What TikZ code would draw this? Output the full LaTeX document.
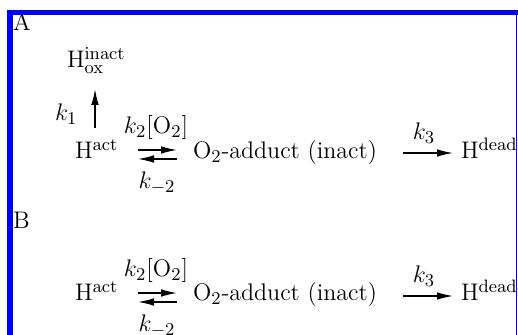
\documentclass[tikz,border=0pt]{standalone}
\usetikzlibrary{arrows.meta}
\DeclareMathSizes{12}{12}{9.5}{7}
\definecolor{frameblue}{RGB}{0,0,255}
\begin{document}
\begin{tikzpicture}[x=0.5pt,y=-0.5pt,
  txt/.style={inner sep=0pt,outer sep=0pt,font=\fontsize{12}{14.5}\selectfont},
  rxn/.style={line width=0.65pt,-{Latex[length=8pt,width=3.8pt]}},
  frame/.style={draw=frameblue,line width=2.6pt},
  thinframe/.style={draw=frameblue,line width=0.8pt}]
\useasboundingbox (0,0) rectangle (518,335);
\fill[white] (0,0) rectangle (518,335);
\begin{scope}
\clip (0,0) rectangle (515.5,335);
% panel A
\node[txt,anchor=base west] (A) at (13,31) {A};
\node[txt,anchor=base west] (hox) at (67,68) {$\mathrm{H}^{\mathrm{inact}}_{\mathrm{ox}}$};
\node[txt,anchor=base west] (k1) at (55,121) {$k_1$};
\node[txt,anchor=base west] (hactA) at (75,159) {$\mathrm{H}^{\mathrm{act}}$};
\node[txt,anchor=base] (k2A) at (156,134) {$k_2[\mathrm{O}_2]$};
\node[txt,anchor=base] (km2A) at (157,189) {$k_{-2}$};
\node[txt,anchor=base west] (adA) at (193,159) {$\mathrm{O}_2$-adduct (inact)};
\node[txt,anchor=base] (k3A) at (424,140) {$k_3$};
\node[txt,anchor=base west] (hdA) at (461,159) {$\mathrm{H}^{\mathrm{dead}}$};
\coordinate (upS) at (95,128);
\coordinate (upE) at (95,89);
\coordinate (fwAs) at (138,150);
\coordinate (fwAe) at (177,150);
\coordinate (bkAs) at (177,159);
\coordinate (bkAe) at (138,159);
\coordinate (k3As) at (403,153);
\coordinate (k3Ae) at (453,153);
\draw[rxn] (upS) -- (upE);
\draw[rxn] (fwAs) -- (fwAe);
\draw[rxn] (bkAs) -- (bkAe);
\draw[rxn] (k3As) -- (k3Ae);
% panel B
\node[txt,anchor=base west] (B) at (13,229) {B};
\node[txt,anchor=base west] (hactB) at (75,301) {$\mathrm{H}^{\mathrm{act}}$};
\node[txt,anchor=base] (k2B) at (156,277) {$k_2[\mathrm{O}_2]$};
\node[txt,anchor=base] (km2B) at (157,332) {$k_{-2}$};
\node[txt,anchor=base west] (adB) at (193,301) {$\mathrm{O}_2$-adduct (inact)};
\node[txt,anchor=base] (k3B) at (424,283) {$k_3$};
\node[txt,anchor=base west] (hdB) at (461,301) {$\mathrm{H}^{\mathrm{dead}}$};
\coordinate (fwBs) at (138,293);
\coordinate (fwBe) at (177,293);
\coordinate (bkBs) at (177,302);
\coordinate (bkBe) at (138,302);
\coordinate (k3Bs) at (403,296);
\coordinate (k3Be) at (453,296);
\draw[rxn] (fwBs) -- (fwBe);
\draw[rxn] (bkBs) -- (bkBe);
\draw[rxn] (k3Bs) -- (k3Be);
\end{scope}
% frame
\draw[frame] (10,335) -- (10,12.5) -- (518,12.5);
\draw[thinframe] (516.5,12.5) -- (516.5,335);
\end{tikzpicture}
\end{document}
